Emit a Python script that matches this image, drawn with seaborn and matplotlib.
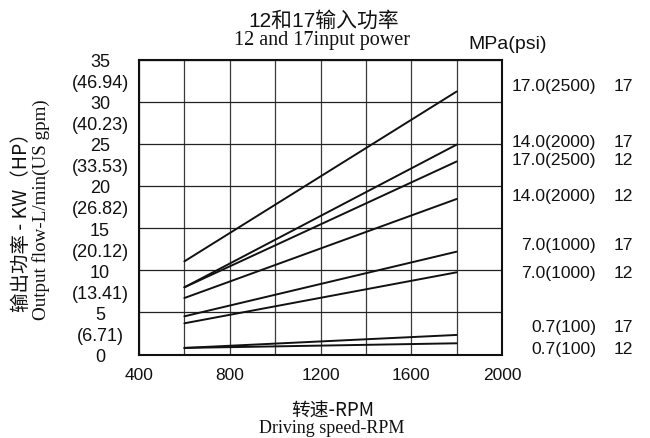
import matplotlib
matplotlib.use("Agg")
import matplotlib.pyplot as plt
import seaborn as sns
import pandas as pd

# ---- data ----
rpm = [600, 1800]
series_names = ["17.0(2500) 17", "14.0(2000) 17", "17.0(2500) 12", "14.0(2000) 12",
                "7.0(1000) 17", "7.0(1000) 12", "0.7(100) 17", "0.7(100) 12"]
p17_17 = [11.05, 31.2]
p14_17 = [7.97, 24.9]
p17_12 = [7.97, 22.9]
p14_12 = [6.70, 18.45]
p7_17 = [4.53, 12.2]
p7_12 = [3.70, 9.75]
p07_17 = [0.78, 2.32]
p07_12 = [0.78, 1.33]
series_values = [p17_17, p14_17, p17_12, p14_12, p7_17, p7_12, p07_17, p07_12]

pressure_labels = ["17.0(2500)", "14.0(2000)", "17.0(2500)", "14.0(2000)",
                   "7.0(1000)", "7.0(1000)", "0.7(100)", "0.7(100)"]
size_labels = ["17", "17", "12", "12", "17", "12", "17", "12"]

kw_ticks = [0, 5, 10, 15, 20, 25, 30, 35]
kw_labels = ["0", "5", "10", "15", "20", "25", "30", "35"]
hp_ticks = [2.5, 7.5, 12.5, 17.5, 22.5, 27.5, 32.5]
hp_labels = ["(6.71)", "(13.41)", "(20.12)", "(26.82)", "(33.53)", "(40.23)", "(46.94)"]
x_major = [400, 800, 1200, 1600, 2000]
x_labels = ["400", "800", "1200", "1600", "2000"]
x_minor = [600, 1000, 1400, 1800]

# ---- table ----
rows = []
for name, vals in zip(series_names, series_values):
    for r, v in zip(rpm, vals):
        rows.append({"rpm": r, "power": v, "series": name})
df = pd.DataFrame(rows)

# ---- style ----
sns.set_theme(style="white")
plt.rcParams['font.family'] = ['Liberation Sans', 'Noto Sans CJK SC', 'DejaVu Sans']

fig = plt.figure(figsize=(6.5, 4.39), dpi=100)
ax = fig.add_axes([139/650, 1 - 355.5/439, (502-139)/650, 295/439])

sns.lineplot(data=df, x="rpm", y="power", hue="series", palette=["#111111"]*8,
             legend=False, linewidth=1.4, ax=ax, sort=False)

ax.set_xlim(400, 2000)
ax.set_ylim(0, 35)
ax.set_xticks(x_major, labels=x_labels)
ax.set_xticks(x_minor, minor=True)
ax.set_yticks(kw_ticks, labels=kw_labels)
ax.set_yticks(hp_ticks, labels=hp_labels, minor=True)
ax.grid(True, which="both", axis="x", color="#3a3a3a", linewidth=0.9)
ax.grid(True, which="major", axis="y", color="#222222", linewidth=0.9)
ax.set_axisbelow(True)
for s in ax.spines.values():
    s.set_color("#111111")
    s.set_linewidth(1.5)
ax.set_xlabel("")
ax.set_ylabel("")
ax.tick_params(axis="x", which="both", length=0, pad=9, labelsize=12.5, colors="#111111")
ax.tick_params(axis="y", which="both", length=0, pad=28, labelsize=13, colors="#111111")
for lab in ax.get_yticklabels() + ax.get_yticklabels(minor=True):
    lab.set_horizontalalignment("center")

# right-side labels
label_y = [31.97, 25.24, 23.19, 18.84, 13.11, 9.75, 3.35, 0.74]
for pl, sl, yv in zip(pressure_labels, size_labels, label_y):
    yfig = 1 - (355.5 - yv * 295/35) / 439
    fig.text(596/650, yfig, pl, ha="right", va="center", fontsize=12.6, color="#111111")
    fig.text(614/650, yfig, sl, ha="left", va="center", fontsize=12.6, color="#111111")

fig.text(508/650, 1 - 44.3/439, "MPa(psi)", ha="center", va="center", fontsize=14, color="#111111")

# titles
fig.text(324/650, 1 - 20.7/439, "12和17输入功率", ha="center", va="center", fontsize=15,
         color="#111111", family=['Liberation Sans', 'Noto Sans CJK SC'])
fig.text(322/650, 1 - 40/439, "12 and 17input power", ha="center", va="center",
         fontsize=14.5, color="#111111", family=['Liberation Serif', 'DejaVu Serif'])

# x labels
fig.text(332.5/650, 1 - 411/439, "转速-RPM", ha="center", va="center", fontsize=13.5,
         color="#111111", family=['Noto Sans CJK SC', 'DejaVu Sans'])
fig.text(331.3/650, 1 - 429/439, "Driving speed-RPM", ha="center", va="center", fontsize=13,
         color="#111111", family=['Liberation Serif', 'DejaVu Serif'])

# y labels
fig.text(21.5/650, 1 - 217.5/439, "输出功率 - KW（HP）", ha="center", va="center", fontsize=14,
         rotation=90, color="#111111", family=['Noto Sans CJK SC', 'DejaVu Sans'])
fig.text(41.5/650, 1 - 209.5/439, "Output flow-L/min(US gpm)", ha="center", va="center",
         fontsize=13.7, rotation=90, color="#111111", family=['Liberation Serif', 'DejaVu Serif'])

fig.savefig("out.png", dpi=100, facecolor="white")
